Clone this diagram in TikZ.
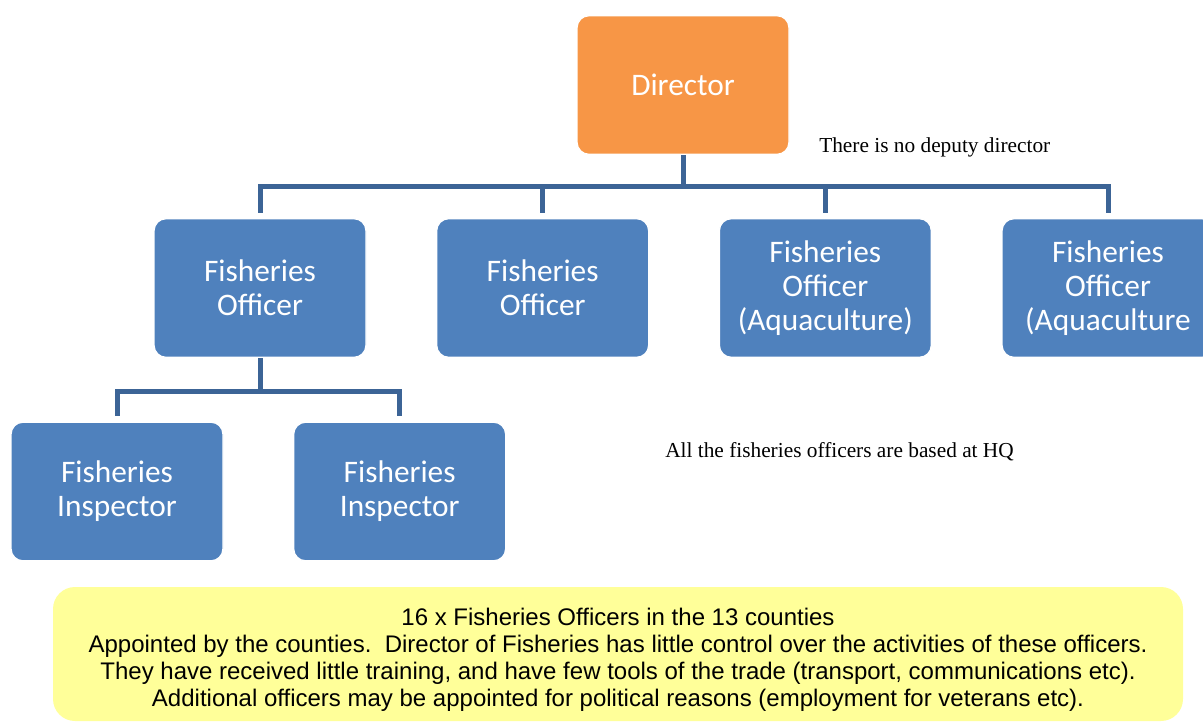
\documentclass[tikz,border=0pt]{standalone}
\usepackage{fontspec}
\setmainfont{Liberation Serif}
\newfontfamily\boxfont{Carlito}
\newfontfamily\countiesfont{Liberation Sans}
\usetikzlibrary{positioning}
\definecolor{dircolor}{RGB}{247,150,70}
\definecolor{officercolor}{RGB}{79,129,189}
\definecolor{linkcolor}{RGB}{60,100,150}
\definecolor{countiescolor}{RGB}{255,255,153}

\begin{document}
\begin{tikzpicture}[x=0.75pt, y=-0.75pt,
    post/.style={rectangle, rounded corners=9pt, draw=white, line width=1pt, inner sep=0pt,
        minimum width=159pt, minimum height=104pt, text=white, align=center,
        font=\boxfont\fontsize{23.5}{25.5}\selectfont},
    link/.style={draw=linkcolor, line width=3.75pt, shorten >=4pt},
    remark/.style={inner sep=0pt, font=\fontsize{16}{19}\selectfont}]
    \useasboundingbox (0,0) rectangle (1203,722);

    % top of the chart
    \node[post, fill=dircolor] (director) at (683,85) {Director};
    \node[post, fill=officercolor] (officerA) at (260,288) {Fisheries\\Officer};
    \node[post, fill=officercolor, right=52pt of officerA] (officerB) {Fisheries\\Officer};
    \node[post, fill=officercolor, right=52pt of officerB] (aquaA) {Fisheries\\Officer\\(Aquaculture)};
    \node[post, fill=officercolor, right=52pt of aquaA] (aquaB) {Fisheries\\Officer\\(Aquaculture};

    % inspectors
    \node[post, fill=officercolor] (inspectorA) at (117,491.5) {Fisheries\\Inspector};
    \node[post, fill=officercolor, right=52pt of inspectorA] (inspectorB) {Fisheries\\Inspector};

    \foreach \child in {officerA, officerB, aquaA, aquaB}
        \draw[link] (director.south) -- ++(0,31) -| (\child.north);
    \foreach \child in {inspectorA, inspectorB}
        \draw[link] (officerA.south) -- ++(0,33) -| (\child.north);

    % remarks
    \node[remark, anchor=base west] (nodeputy) at (819,152) {There is no deputy director};
    \node[remark, anchor=base west] (basedhq) at (665,457) {All the fisheries officers are based at HQ};

    \node[rectangle, rounded corners=16.5pt, fill=countiescolor, minimum width=847.5pt,
        minimum height=100.5pt] (countiesbox) at (618,654) {};
    \node[align=center, inner sep=0pt, font=\countiesfont\fontsize{18}{20.25}\selectfont]
        (counties) at ([yshift=-4pt]countiesbox.center) {16 x Fisheries Officers in the 13 counties\\
        Appointed by the counties.\ \ Director of Fisheries has little control over the activities of these officers.\\
        They have received little training, and have few tools of the trade (transport, communications etc).\\
        Additional officers may be appointed for political reasons (employment for veterans etc).};
\end{tikzpicture}
\end{document}
